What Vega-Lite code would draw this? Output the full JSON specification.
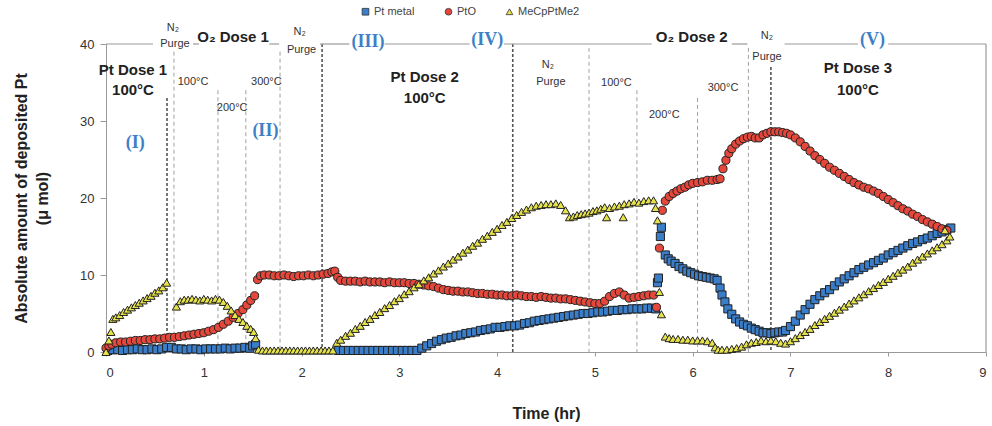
{
"$schema":"https://vega.github.io/schema/vega-lite/v6.json",
"width":880,"height":308,
"autosize":{"type":"none"},
"padding":{"left":106,"top":44,"right":6,"bottom":74},
"background":"white",
"config":{"view":{"stroke":null},"font":"Liberation Sans"},
"datasets":{
"pts":[
{"t":0.02,"s":"Pt metal","v":0.2},{"t":0.07,"s":"Pt metal","v":0.3},{"t":0.12,"s":"Pt metal","v":0.3},{"t":0.17,"s":"Pt metal","v":0.2},{"t":0.22,"s":"Pt metal","v":0.3},{"t":0.27,"s":"Pt metal","v":0.3},{"t":0.32,"s":"Pt metal","v":0.4},{"t":0.37,"s":"Pt metal","v":0.3},{"t":0.42,"s":"Pt metal","v":0.3},{"t":0.47,"s":"Pt metal","v":0.4},{"t":0.52,"s":"Pt metal","v":0.3},{"t":0.57,"s":"Pt metal","v":0.4},{"t":0.62,"s":"Pt metal","v":0.6},{"t":0.67,"s":"Pt metal","v":0.6},{"t":0.72,"s":"Pt metal","v":0.4},{"t":0.77,"s":"Pt metal","v":0.4},{"t":0.82,"s":"Pt metal","v":0.3},{"t":0.87,"s":"Pt metal","v":0.4},{"t":0.92,"s":"Pt metal","v":0.4},{"t":0.97,"s":"Pt metal","v":0.3},{"t":1.02,"s":"Pt metal","v":0.4},{"t":1.07,"s":"Pt metal","v":0.4},{"t":1.12,"s":"Pt metal","v":0.4},{"t":1.17,"s":"Pt metal","v":0.4},{"t":1.22,"s":"Pt metal","v":0.5},{"t":1.27,"s":"Pt metal","v":0.4},{"t":1.32,"s":"Pt metal","v":0.5},{"t":1.37,"s":"Pt metal","v":0.5},{"t":1.42,"s":"Pt metal","v":0.6},{"t":1.47,"s":"Pt metal","v":0.5},{"t":1.5,"s":"Pt metal","v":0.8},{"t":1.53,"s":"Pt metal","v":1.0},
{"t":2.38,"s":"Pt metal","v":0.2},{"t":2.43,"s":"Pt metal","v":0.2},{"t":2.48,"s":"Pt metal","v":0.2},{"t":2.53,"s":"Pt metal","v":0.2},{"t":2.58,"s":"Pt metal","v":0.2},{"t":2.63,"s":"Pt metal","v":0.2},{"t":2.68,"s":"Pt metal","v":0.2},{"t":2.73,"s":"Pt metal","v":0.2},{"t":2.78,"s":"Pt metal","v":0.2},{"t":2.83,"s":"Pt metal","v":0.2},{"t":2.88,"s":"Pt metal","v":0.2},{"t":2.93,"s":"Pt metal","v":0.2},{"t":2.98,"s":"Pt metal","v":0.2},{"t":3.03,"s":"Pt metal","v":0.2},{"t":3.08,"s":"Pt metal","v":0.2},{"t":3.13,"s":"Pt metal","v":0.2},{"t":3.18,"s":"Pt metal","v":0.2},{"t":3.23,"s":"Pt metal","v":0.5},{"t":3.28,"s":"Pt metal","v":0.8},{"t":3.33,"s":"Pt metal","v":1.1},{"t":3.38,"s":"Pt metal","v":1.4},{"t":3.43,"s":"Pt metal","v":1.6},{"t":3.48,"s":"Pt metal","v":1.8},{"t":3.53,"s":"Pt metal","v":1.9},{"t":3.58,"s":"Pt metal","v":2.1},{"t":3.63,"s":"Pt metal","v":2.2},{"t":3.68,"s":"Pt metal","v":2.4},{"t":3.73,"s":"Pt metal","v":2.5},{"t":3.78,"s":"Pt metal","v":2.6},{"t":3.83,"s":"Pt metal","v":2.8},{"t":3.88,"s":"Pt metal","v":2.9},{"t":3.93,"s":"Pt metal","v":3.0},{"t":3.98,"s":"Pt metal","v":3.2},{"t":4.03,"s":"Pt metal","v":3.2},{"t":4.08,"s":"Pt metal","v":3.3},{"t":4.13,"s":"Pt metal","v":3.4},{"t":4.18,"s":"Pt metal","v":3.4},{"t":4.23,"s":"Pt metal","v":3.5},{"t":4.28,"s":"Pt metal","v":3.7},{"t":4.33,"s":"Pt metal","v":3.8},{"t":4.38,"s":"Pt metal","v":4.0},{"t":4.43,"s":"Pt metal","v":4.1},{"t":4.48,"s":"Pt metal","v":4.2},{"t":4.53,"s":"Pt metal","v":4.3},{"t":4.58,"s":"Pt metal","v":4.4},{"t":4.63,"s":"Pt metal","v":4.5},{"t":4.68,"s":"Pt metal","v":4.6},{"t":4.73,"s":"Pt metal","v":4.7},{"t":4.78,"s":"Pt metal","v":4.8},{"t":4.83,"s":"Pt metal","v":4.9},{"t":4.88,"s":"Pt metal","v":5.0},{"t":4.93,"s":"Pt metal","v":5.0},{"t":4.98,"s":"Pt metal","v":5.1},{"t":5.03,"s":"Pt metal","v":5.2},{"t":5.08,"s":"Pt metal","v":5.2},{"t":5.13,"s":"Pt metal","v":5.3},{"t":5.18,"s":"Pt metal","v":5.4},{"t":5.23,"s":"Pt metal","v":5.4},{"t":5.28,"s":"Pt metal","v":5.5},{"t":5.33,"s":"Pt metal","v":5.5},{"t":5.38,"s":"Pt metal","v":5.6},{"t":5.43,"s":"Pt metal","v":5.6},{"t":5.48,"s":"Pt metal","v":5.6},{"t":5.53,"s":"Pt metal","v":5.7},{"t":5.58,"s":"Pt metal","v":5.7},{"t":5.62,"s":"Pt metal","v":5.6},{"t":5.64,"s":"Pt metal","v":9.0},{"t":5.65,"s":"Pt metal","v":9.6},{"t":5.67,"s":"Pt metal","v":15.0},{"t":5.68,"s":"Pt metal","v":16.2},{"t":5.72,"s":"Pt metal","v":12.6},{"t":5.75,"s":"Pt metal","v":12.1},{"t":5.78,"s":"Pt metal","v":11.8},{"t":5.82,"s":"Pt metal","v":11.5},{"t":5.86,"s":"Pt metal","v":11.1},{"t":5.9,"s":"Pt metal","v":10.8},{"t":5.94,"s":"Pt metal","v":10.5},{"t":5.98,"s":"Pt metal","v":10.3},{"t":6.02,"s":"Pt metal","v":10.1},{"t":6.06,"s":"Pt metal","v":9.9},{"t":6.1,"s":"Pt metal","v":9.8},{"t":6.14,"s":"Pt metal","v":9.7},{"t":6.18,"s":"Pt metal","v":9.6},{"t":6.22,"s":"Pt metal","v":9.5},{"t":6.25,"s":"Pt metal","v":9.3},{"t":6.28,"s":"Pt metal","v":8.3},{"t":6.3,"s":"Pt metal","v":7.4},{"t":6.33,"s":"Pt metal","v":6.5},{"t":6.36,"s":"Pt metal","v":5.6},{"t":6.4,"s":"Pt metal","v":4.9},{"t":6.44,"s":"Pt metal","v":4.3},{"t":6.48,"s":"Pt metal","v":3.9},{"t":6.52,"s":"Pt metal","v":3.6},{"t":6.56,"s":"Pt metal","v":3.4},{"t":6.6,"s":"Pt metal","v":3.1},{"t":6.64,"s":"Pt metal","v":2.9},{"t":6.68,"s":"Pt metal","v":2.7},{"t":6.72,"s":"Pt metal","v":2.5},{"t":6.76,"s":"Pt metal","v":2.5},{"t":6.8,"s":"Pt metal","v":2.4},{"t":6.84,"s":"Pt metal","v":2.5},{"t":6.88,"s":"Pt metal","v":2.6},{"t":6.92,"s":"Pt metal","v":2.6},{"t":6.95,"s":"Pt metal","v":2.8},
{"t":7.0,"s":"Pt metal","v":3.3},{"t":7.05,"s":"Pt metal","v":4.0},{"t":7.1,"s":"Pt metal","v":4.8},{"t":7.15,"s":"Pt metal","v":5.5},{"t":7.2,"s":"Pt metal","v":6.2},{"t":7.25,"s":"Pt metal","v":6.8},{"t":7.3,"s":"Pt metal","v":7.3},{"t":7.35,"s":"Pt metal","v":7.7},{"t":7.4,"s":"Pt metal","v":8.1},{"t":7.45,"s":"Pt metal","v":8.6},{"t":7.5,"s":"Pt metal","v":9.1},{"t":7.55,"s":"Pt metal","v":9.5},{"t":7.6,"s":"Pt metal","v":9.9},{"t":7.65,"s":"Pt metal","v":10.3},{"t":7.7,"s":"Pt metal","v":10.7},{"t":7.75,"s":"Pt metal","v":11.0},{"t":7.8,"s":"Pt metal","v":11.3},{"t":7.85,"s":"Pt metal","v":11.6},{"t":7.9,"s":"Pt metal","v":11.9},{"t":7.95,"s":"Pt metal","v":12.2},{"t":8.0,"s":"Pt metal","v":12.6},{"t":8.05,"s":"Pt metal","v":12.9},{"t":8.1,"s":"Pt metal","v":13.2},{"t":8.15,"s":"Pt metal","v":13.5},{"t":8.2,"s":"Pt metal","v":13.8},{"t":8.25,"s":"Pt metal","v":14.1},{"t":8.3,"s":"Pt metal","v":14.3},{"t":8.35,"s":"Pt metal","v":14.6},{"t":8.4,"s":"Pt metal","v":14.8},{"t":8.45,"s":"Pt metal","v":15.1},{"t":8.5,"s":"Pt metal","v":15.4},{"t":8.55,"s":"Pt metal","v":15.6},{"t":8.6,"s":"Pt metal","v":15.9},{"t":8.64,"s":"Pt metal","v":16.1},
{"t":0.0,"s":"PtO","v":0.5},{"t":0.03,"s":"PtO","v":0.8},{"t":0.06,"s":"PtO","v":1.0},{"t":0.1,"s":"PtO","v":1.2},{"t":0.15,"s":"PtO","v":1.3},{"t":0.2,"s":"PtO","v":1.3},{"t":0.25,"s":"PtO","v":1.4},{"t":0.3,"s":"PtO","v":1.5},{"t":0.35,"s":"PtO","v":1.5},{"t":0.4,"s":"PtO","v":1.6},{"t":0.45,"s":"PtO","v":1.6},{"t":0.5,"s":"PtO","v":1.7},{"t":0.55,"s":"PtO","v":1.7},{"t":0.6,"s":"PtO","v":1.8},{"t":0.65,"s":"PtO","v":1.9},{"t":0.7,"s":"PtO","v":1.9},{"t":0.75,"s":"PtO","v":2.0},{"t":0.8,"s":"PtO","v":2.1},{"t":0.85,"s":"PtO","v":2.2},{"t":0.9,"s":"PtO","v":2.3},{"t":0.95,"s":"PtO","v":2.4},{"t":1.0,"s":"PtO","v":2.5},{"t":1.05,"s":"PtO","v":2.7},{"t":1.1,"s":"PtO","v":2.9},{"t":1.15,"s":"PtO","v":3.2},{"t":1.2,"s":"PtO","v":3.6},{"t":1.25,"s":"PtO","v":4.0},{"t":1.3,"s":"PtO","v":4.5},{"t":1.35,"s":"PtO","v":5.0},{"t":1.4,"s":"PtO","v":5.5},{"t":1.44,"s":"PtO","v":6.1},{"t":1.48,"s":"PtO","v":6.7},{"t":1.52,"s":"PtO","v":7.3},{"t":1.55,"s":"PtO","v":9.4},{"t":1.58,"s":"PtO","v":9.9},{"t":1.62,"s":"PtO","v":10.0},{"t":1.67,"s":"PtO","v":10.0},{"t":1.72,"s":"PtO","v":9.9},{"t":1.77,"s":"PtO","v":9.9},{"t":1.82,"s":"PtO","v":10.0},{"t":1.87,"s":"PtO","v":9.9},{"t":1.92,"s":"PtO","v":9.8},{"t":1.97,"s":"PtO","v":9.9},{"t":2.02,"s":"PtO","v":9.9},{"t":2.07,"s":"PtO","v":10.0},{"t":2.12,"s":"PtO","v":9.9},{"t":2.17,"s":"PtO","v":10.0},{"t":2.22,"s":"PtO","v":10.1},{"t":2.27,"s":"PtO","v":10.2},{"t":2.31,"s":"PtO","v":10.4},{"t":2.34,"s":"PtO","v":10.5},{"t":2.37,"s":"PtO","v":9.7},{"t":2.4,"s":"PtO","v":9.3},{"t":2.45,"s":"PtO","v":9.2},{"t":2.5,"s":"PtO","v":9.2},{"t":2.55,"s":"PtO","v":9.2},{"t":2.6,"s":"PtO","v":9.1},{"t":2.65,"s":"PtO","v":9.2},{"t":2.7,"s":"PtO","v":9.1},{"t":2.75,"s":"PtO","v":9.1},{"t":2.8,"s":"PtO","v":9.1},{"t":2.85,"s":"PtO","v":9.0},{"t":2.9,"s":"PtO","v":9.1},{"t":2.95,"s":"PtO","v":9.0},{"t":3.0,"s":"PtO","v":9.0},{"t":3.05,"s":"PtO","v":9.0},{"t":3.1,"s":"PtO","v":8.9},{"t":3.15,"s":"PtO","v":8.9},{"t":3.2,"s":"PtO","v":8.8},{"t":3.25,"s":"PtO","v":8.7},{"t":3.3,"s":"PtO","v":8.6},{"t":3.35,"s":"PtO","v":8.5},{"t":3.4,"s":"PtO","v":8.3},{"t":3.45,"s":"PtO","v":8.1},{"t":3.5,"s":"PtO","v":8.0},{"t":3.55,"s":"PtO","v":7.9},{"t":3.6,"s":"PtO","v":7.9},{"t":3.65,"s":"PtO","v":7.8},{"t":3.7,"s":"PtO","v":7.8},{"t":3.75,"s":"PtO","v":7.7},{"t":3.8,"s":"PtO","v":7.6},{"t":3.85,"s":"PtO","v":7.6},{"t":3.9,"s":"PtO","v":7.5},{"t":3.95,"s":"PtO","v":7.5},{"t":4.0,"s":"PtO","v":7.4},{"t":4.05,"s":"PtO","v":7.4},{"t":4.1,"s":"PtO","v":7.3},{"t":4.15,"s":"PtO","v":7.3},{"t":4.2,"s":"PtO","v":7.4},{"t":4.25,"s":"PtO","v":7.3},{"t":4.3,"s":"PtO","v":7.2},{"t":4.35,"s":"PtO","v":7.2},{"t":4.4,"s":"PtO","v":7.1},{"t":4.45,"s":"PtO","v":7.2},{"t":4.5,"s":"PtO","v":7.1},{"t":4.55,"s":"PtO","v":7.0},{"t":4.6,"s":"PtO","v":7.0},{"t":4.65,"s":"PtO","v":6.9},{"t":4.7,"s":"PtO","v":6.9},{"t":4.75,"s":"PtO","v":6.8},{"t":4.8,"s":"PtO","v":6.7},{"t":4.85,"s":"PtO","v":6.6},{"t":4.9,"s":"PtO","v":6.5},{"t":4.95,"s":"PtO","v":6.4},{"t":5.0,"s":"PtO","v":6.3},{"t":5.05,"s":"PtO","v":6.3},{"t":5.1,"s":"PtO","v":6.6},{"t":5.15,"s":"PtO","v":7.2},{"t":5.2,"s":"PtO","v":7.6},{"t":5.25,"s":"PtO","v":7.8},{"t":5.3,"s":"PtO","v":7.4},{"t":5.35,"s":"PtO","v":7.0},{"t":5.4,"s":"PtO","v":7.1},{"t":5.45,"s":"PtO","v":7.2},{"t":5.5,"s":"PtO","v":7.3},{"t":5.55,"s":"PtO","v":7.4},{"t":5.6,"s":"PtO","v":7.4},{"t":5.63,"s":"PtO","v":5.8},{"t":5.66,"s":"PtO","v":13.5},{"t":5.69,"s":"PtO","v":18.4},{"t":5.72,"s":"PtO","v":19.6},{"t":5.76,"s":"PtO","v":20.2},{"t":5.8,"s":"PtO","v":20.6},{"t":5.84,"s":"PtO","v":20.9},{"t":5.88,"s":"PtO","v":21.2},{"t":5.92,"s":"PtO","v":21.4},{"t":5.96,"s":"PtO","v":21.7},{"t":6.0,"s":"PtO","v":21.9},{"t":6.05,"s":"PtO","v":22.0},{"t":6.1,"s":"PtO","v":22.1},{"t":6.15,"s":"PtO","v":22.3},{"t":6.2,"s":"PtO","v":22.3},{"t":6.25,"s":"PtO","v":22.4},{"t":6.28,"s":"PtO","v":22.5},{"t":6.31,"s":"PtO","v":23.8},{"t":6.34,"s":"PtO","v":24.9},{"t":6.37,"s":"PtO","v":25.8},{"t":6.4,"s":"PtO","v":26.4},{"t":6.44,"s":"PtO","v":27.0},{"t":6.48,"s":"PtO","v":27.4},{"t":6.52,"s":"PtO","v":27.7},{"t":6.56,"s":"PtO","v":27.9},{"t":6.6,"s":"PtO","v":28.0},{"t":6.64,"s":"PtO","v":27.8},{"t":6.68,"s":"PtO","v":27.8},{"t":6.72,"s":"PtO","v":28.2},{"t":6.76,"s":"PtO","v":28.4},{"t":6.8,"s":"PtO","v":28.6},{"t":6.84,"s":"PtO","v":28.6},{"t":6.88,"s":"PtO","v":28.6},{"t":6.92,"s":"PtO","v":28.5},{"t":6.96,"s":"PtO","v":28.4},{"t":7.0,"s":"PtO","v":28.2},{"t":7.05,"s":"PtO","v":27.8},{"t":7.1,"s":"PtO","v":27.3},{"t":7.15,"s":"PtO","v":26.7},{"t":7.2,"s":"PtO","v":26.1},{"t":7.25,"s":"PtO","v":25.5},{"t":7.3,"s":"PtO","v":25.0},{"t":7.35,"s":"PtO","v":24.5},{"t":7.4,"s":"PtO","v":24.0},{"t":7.45,"s":"PtO","v":23.6},{"t":7.5,"s":"PtO","v":23.2},{"t":7.55,"s":"PtO","v":22.8},{"t":7.6,"s":"PtO","v":22.4},{"t":7.65,"s":"PtO","v":22.0},{"t":7.7,"s":"PtO","v":21.7},{"t":7.75,"s":"PtO","v":21.4},{"t":7.8,"s":"PtO","v":21.2},{"t":7.85,"s":"PtO","v":20.9},{"t":7.9,"s":"PtO","v":20.6},{"t":7.95,"s":"PtO","v":20.2},{"t":8.0,"s":"PtO","v":19.8},{"t":8.05,"s":"PtO","v":19.4},{"t":8.1,"s":"PtO","v":19.0},{"t":8.15,"s":"PtO","v":18.6},{"t":8.2,"s":"PtO","v":18.3},{"t":8.25,"s":"PtO","v":17.9},{"t":8.3,"s":"PtO","v":17.6},{"t":8.35,"s":"PtO","v":17.2},{"t":8.4,"s":"PtO","v":16.9},{"t":8.45,"s":"PtO","v":16.6},{"t":8.5,"s":"PtO","v":16.3},{"t":8.55,"s":"PtO","v":16.0},{"t":8.6,"s":"PtO","v":15.8},
{"t":0.0,"s":"MeCpPtMe2","v":0.0},{"t":0.03,"s":"MeCpPtMe2","v":1.5},{"t":0.05,"s":"MeCpPtMe2","v":2.6},{"t":0.07,"s":"MeCpPtMe2","v":4.3},{"t":0.1,"s":"MeCpPtMe2","v":4.5},{"t":0.14,"s":"MeCpPtMe2","v":4.8},{"t":0.18,"s":"MeCpPtMe2","v":5.2},{"t":0.22,"s":"MeCpPtMe2","v":5.5},{"t":0.26,"s":"MeCpPtMe2","v":5.8},{"t":0.3,"s":"MeCpPtMe2","v":6.1},{"t":0.34,"s":"MeCpPtMe2","v":6.4},{"t":0.38,"s":"MeCpPtMe2","v":6.7},{"t":0.42,"s":"MeCpPtMe2","v":7.0},{"t":0.46,"s":"MeCpPtMe2","v":7.3},{"t":0.5,"s":"MeCpPtMe2","v":7.7},{"t":0.54,"s":"MeCpPtMe2","v":8.0},{"t":0.58,"s":"MeCpPtMe2","v":8.4},{"t":0.62,"s":"MeCpPtMe2","v":9.0},{"t":0.72,"s":"MeCpPtMe2","v":5.9},{"t":0.76,"s":"MeCpPtMe2","v":6.6},{"t":0.8,"s":"MeCpPtMe2","v":6.8},{"t":0.84,"s":"MeCpPtMe2","v":6.8},{"t":0.88,"s":"MeCpPtMe2","v":6.9},{"t":0.92,"s":"MeCpPtMe2","v":6.8},{"t":0.96,"s":"MeCpPtMe2","v":6.7},{"t":1.0,"s":"MeCpPtMe2","v":6.9},{"t":1.04,"s":"MeCpPtMe2","v":6.8},{"t":1.08,"s":"MeCpPtMe2","v":6.7},{"t":1.12,"s":"MeCpPtMe2","v":6.9},{"t":1.16,"s":"MeCpPtMe2","v":6.8},{"t":1.2,"s":"MeCpPtMe2","v":6.5},{"t":1.24,"s":"MeCpPtMe2","v":6.0},{"t":1.28,"s":"MeCpPtMe2","v":5.4},{"t":1.32,"s":"MeCpPtMe2","v":4.8},{"t":1.36,"s":"MeCpPtMe2","v":4.3},{"t":1.4,"s":"MeCpPtMe2","v":3.9},{"t":1.44,"s":"MeCpPtMe2","v":3.4},{"t":1.48,"s":"MeCpPtMe2","v":3.0},{"t":1.51,"s":"MeCpPtMe2","v":2.6},{"t":1.53,"s":"MeCpPtMe2","v":1.8},{"t":1.56,"s":"MeCpPtMe2","v":0.3},{"t":1.6,"s":"MeCpPtMe2","v":0.2},{"t":1.64,"s":"MeCpPtMe2","v":0.2},{"t":1.68,"s":"MeCpPtMe2","v":0.2},{"t":1.72,"s":"MeCpPtMe2","v":0.2},{"t":1.76,"s":"MeCpPtMe2","v":0.2},{"t":1.8,"s":"MeCpPtMe2","v":0.2},{"t":1.84,"s":"MeCpPtMe2","v":0.2},{"t":1.88,"s":"MeCpPtMe2","v":0.2},{"t":1.92,"s":"MeCpPtMe2","v":0.2},{"t":1.96,"s":"MeCpPtMe2","v":0.2},{"t":2.0,"s":"MeCpPtMe2","v":0.2},{"t":2.04,"s":"MeCpPtMe2","v":0.2},{"t":2.08,"s":"MeCpPtMe2","v":0.2},{"t":2.12,"s":"MeCpPtMe2","v":0.2},{"t":2.16,"s":"MeCpPtMe2","v":0.2},{"t":2.2,"s":"MeCpPtMe2","v":0.2},{"t":2.24,"s":"MeCpPtMe2","v":0.2},{"t":2.28,"s":"MeCpPtMe2","v":0.2},{"t":2.32,"s":"MeCpPtMe2","v":0.2},
{"t":2.36,"s":"MeCpPtMe2","v":1.2},{"t":2.4,"s":"MeCpPtMe2","v":1.6},{"t":2.45,"s":"MeCpPtMe2","v":2.1},{"t":2.5,"s":"MeCpPtMe2","v":2.5},{"t":2.55,"s":"MeCpPtMe2","v":3.0},{"t":2.6,"s":"MeCpPtMe2","v":3.4},{"t":2.65,"s":"MeCpPtMe2","v":3.9},{"t":2.7,"s":"MeCpPtMe2","v":4.3},{"t":2.75,"s":"MeCpPtMe2","v":4.8},{"t":2.8,"s":"MeCpPtMe2","v":5.2},{"t":2.85,"s":"MeCpPtMe2","v":5.7},{"t":2.9,"s":"MeCpPtMe2","v":6.1},{"t":2.95,"s":"MeCpPtMe2","v":6.6},{"t":3.0,"s":"MeCpPtMe2","v":7.0},{"t":3.05,"s":"MeCpPtMe2","v":7.5},{"t":3.1,"s":"MeCpPtMe2","v":7.9},{"t":3.15,"s":"MeCpPtMe2","v":8.4},{"t":3.2,"s":"MeCpPtMe2","v":8.8},{"t":3.25,"s":"MeCpPtMe2","v":9.3},{"t":3.3,"s":"MeCpPtMe2","v":9.7},{"t":3.35,"s":"MeCpPtMe2","v":10.2},{"t":3.4,"s":"MeCpPtMe2","v":10.6},{"t":3.45,"s":"MeCpPtMe2","v":11.1},{"t":3.5,"s":"MeCpPtMe2","v":11.5},{"t":3.55,"s":"MeCpPtMe2","v":12.0},{"t":3.6,"s":"MeCpPtMe2","v":12.4},{"t":3.65,"s":"MeCpPtMe2","v":12.9},{"t":3.7,"s":"MeCpPtMe2","v":13.3},{"t":3.75,"s":"MeCpPtMe2","v":13.8},{"t":3.8,"s":"MeCpPtMe2","v":14.2},{"t":3.85,"s":"MeCpPtMe2","v":14.7},{"t":3.9,"s":"MeCpPtMe2","v":15.1},{"t":3.95,"s":"MeCpPtMe2","v":15.6},{"t":4.0,"s":"MeCpPtMe2","v":16.0},{"t":4.05,"s":"MeCpPtMe2","v":16.5},{"t":4.1,"s":"MeCpPtMe2","v":16.9},{"t":4.15,"s":"MeCpPtMe2","v":17.4},{"t":4.2,"s":"MeCpPtMe2","v":17.8},{"t":4.25,"s":"MeCpPtMe2","v":18.2},{"t":4.3,"s":"MeCpPtMe2","v":18.5},{"t":4.35,"s":"MeCpPtMe2","v":18.8},{"t":4.4,"s":"MeCpPtMe2","v":19.0},{"t":4.45,"s":"MeCpPtMe2","v":19.1},{"t":4.5,"s":"MeCpPtMe2","v":19.2},{"t":4.55,"s":"MeCpPtMe2","v":19.2},{"t":4.6,"s":"MeCpPtMe2","v":19.3},{"t":4.65,"s":"MeCpPtMe2","v":19.1},{"t":4.7,"s":"MeCpPtMe2","v":18.4},{"t":4.74,"s":"MeCpPtMe2","v":17.5},{"t":4.78,"s":"MeCpPtMe2","v":17.6},{"t":4.82,"s":"MeCpPtMe2","v":17.8},{"t":4.86,"s":"MeCpPtMe2","v":17.9},{"t":4.9,"s":"MeCpPtMe2","v":18.0},{"t":4.94,"s":"MeCpPtMe2","v":18.1},{"t":4.98,"s":"MeCpPtMe2","v":18.3},{"t":5.02,"s":"MeCpPtMe2","v":18.4},{"t":5.06,"s":"MeCpPtMe2","v":18.6},{"t":5.1,"s":"MeCpPtMe2","v":18.8},{"t":5.12,"s":"MeCpPtMe2","v":17.5},{"t":5.15,"s":"MeCpPtMe2","v":18.7},{"t":5.2,"s":"MeCpPtMe2","v":18.9},{"t":5.25,"s":"MeCpPtMe2","v":19.0},{"t":5.29,"s":"MeCpPtMe2","v":17.5},{"t":5.3,"s":"MeCpPtMe2","v":19.2},{"t":5.35,"s":"MeCpPtMe2","v":19.3},{"t":5.4,"s":"MeCpPtMe2","v":19.5},{"t":5.45,"s":"MeCpPtMe2","v":19.4},{"t":5.5,"s":"MeCpPtMe2","v":19.6},{"t":5.55,"s":"MeCpPtMe2","v":19.7},{"t":5.6,"s":"MeCpPtMe2","v":19.7},{"t":5.62,"s":"MeCpPtMe2","v":18.7},{"t":5.64,"s":"MeCpPtMe2","v":17.1},{"t":5.66,"s":"MeCpPtMe2","v":7.8},{"t":5.68,"s":"MeCpPtMe2","v":4.9},{"t":5.72,"s":"MeCpPtMe2","v":2.0},{"t":5.76,"s":"MeCpPtMe2","v":1.8},{"t":5.8,"s":"MeCpPtMe2","v":1.7},{"t":5.85,"s":"MeCpPtMe2","v":1.7},{"t":5.9,"s":"MeCpPtMe2","v":1.6},{"t":5.95,"s":"MeCpPtMe2","v":1.6},{"t":6.0,"s":"MeCpPtMe2","v":1.5},{"t":6.05,"s":"MeCpPtMe2","v":1.5},{"t":6.1,"s":"MeCpPtMe2","v":1.5},{"t":6.15,"s":"MeCpPtMe2","v":1.4},{"t":6.2,"s":"MeCpPtMe2","v":1.2},{"t":6.23,"s":"MeCpPtMe2","v":0.6},{"t":6.26,"s":"MeCpPtMe2","v":0.3},{"t":6.3,"s":"MeCpPtMe2","v":0.3},{"t":6.35,"s":"MeCpPtMe2","v":0.3},{"t":6.4,"s":"MeCpPtMe2","v":0.4},{"t":6.45,"s":"MeCpPtMe2","v":0.5},{"t":6.5,"s":"MeCpPtMe2","v":0.7},{"t":6.55,"s":"MeCpPtMe2","v":1.0},{"t":6.6,"s":"MeCpPtMe2","v":1.2},{"t":6.65,"s":"MeCpPtMe2","v":1.3},{"t":6.7,"s":"MeCpPtMe2","v":1.5},{"t":6.75,"s":"MeCpPtMe2","v":1.4},{"t":6.8,"s":"MeCpPtMe2","v":1.5},{"t":6.85,"s":"MeCpPtMe2","v":1.4},{"t":6.9,"s":"MeCpPtMe2","v":1.2},{"t":6.95,"s":"MeCpPtMe2","v":1.1},
{"t":7.0,"s":"MeCpPtMe2","v":1.4},{"t":7.05,"s":"MeCpPtMe2","v":1.8},{"t":7.1,"s":"MeCpPtMe2","v":2.2},{"t":7.15,"s":"MeCpPtMe2","v":2.6},{"t":7.2,"s":"MeCpPtMe2","v":3.0},{"t":7.25,"s":"MeCpPtMe2","v":3.5},{"t":7.3,"s":"MeCpPtMe2","v":3.9},{"t":7.35,"s":"MeCpPtMe2","v":4.3},{"t":7.4,"s":"MeCpPtMe2","v":4.7},{"t":7.45,"s":"MeCpPtMe2","v":5.1},{"t":7.5,"s":"MeCpPtMe2","v":5.5},{"t":7.55,"s":"MeCpPtMe2","v":5.9},{"t":7.6,"s":"MeCpPtMe2","v":6.3},{"t":7.65,"s":"MeCpPtMe2","v":6.7},{"t":7.7,"s":"MeCpPtMe2","v":7.1},{"t":7.75,"s":"MeCpPtMe2","v":7.5},{"t":7.8,"s":"MeCpPtMe2","v":7.9},{"t":7.85,"s":"MeCpPtMe2","v":8.3},{"t":7.9,"s":"MeCpPtMe2","v":8.7},{"t":7.95,"s":"MeCpPtMe2","v":9.1},{"t":8.0,"s":"MeCpPtMe2","v":9.5},{"t":8.05,"s":"MeCpPtMe2","v":9.9},{"t":8.1,"s":"MeCpPtMe2","v":10.3},{"t":8.15,"s":"MeCpPtMe2","v":10.7},{"t":8.2,"s":"MeCpPtMe2","v":11.1},{"t":8.25,"s":"MeCpPtMe2","v":11.6},{"t":8.3,"s":"MeCpPtMe2","v":12.0},{"t":8.35,"s":"MeCpPtMe2","v":12.4},{"t":8.4,"s":"MeCpPtMe2","v":12.8},{"t":8.45,"s":"MeCpPtMe2","v":13.2},{"t":8.5,"s":"MeCpPtMe2","v":13.6},{"t":8.55,"s":"MeCpPtMe2","v":14.0},{"t":8.6,"s":"MeCpPtMe2","v":14.5},{"t":8.63,"s":"MeCpPtMe2","v":15.0},{"t":8.58,"s":"MeCpPtMe2","v":15.8}
],
"vlines":[
{"t":0.624,"v":33,"k":"thick"},{"t":2.21,"v":40,"k":"thick"},{"t":4.16,"v":40,"k":"thick"},{"t":6.8,"v":37,"k":"thick"},
{"t":0.695,"v":39,"k":"thin"},{"t":1.145,"v":34,"k":"thin"},{"t":1.43,"v":34,"k":"thin"},{"t":1.78,"v":39,"k":"thin"},{"t":4.94,"v":39.5,"k":"thin"},{"t":5.43,"v":34,"k":"thin"},{"t":6.05,"v":33,"k":"thin"},{"t":6.57,"v":39.5,"k":"thin"}
],
"border":[
{"t":0,"t2":0.48,"v":40},{"t":0.89,"t2":0.95,"v":40},{"t":1.67,"t2":1.77,"v":40},{"t":2.19,"t2":2.49,"v":40},{"t":2.85,"t2":3.72,"v":40},{"t":4.07,"t2":5.58,"v":40},{"t":6.4,"t2":6.56,"v":40},{"t":6.94,"t2":7.69,"v":40},{"t":8.0,"t2":9.0,"v":40}
],
"notes":[
{"t":0.276,"v":36.6,"label":"Pt Dose 1","k":"bold"},{"t":0.276,"v":34.0,"label":"100°C","k":"bold"},{"t":1.30,"v":40.9,"label":"O₂ Dose 1","k":"bold"},{"t":3.26,"v":35.7,"label":"Pt Dose 2","k":"bold"},{"t":3.26,"v":33.0,"label":"100°C","k":"bold"},{"t":5.99,"v":40.9,"label":"O₂ Dose 2","k":"bold"},{"t":7.69,"v":36.9,"label":"Pt Dose 3","k":"bold"},{"t":7.69,"v":34.0,"label":"100°C","k":"bold"},
{"t":0.685,"v":42.1,"label":"N₂","k":"small"},{"t":0.705,"v":40.0,"label":"Purge","k":"small"},{"t":1.98,"v":41.6,"label":"N₂","k":"small"},{"t":2.0,"v":39.2,"label":"Purge","k":"small"},{"t":0.89,"v":35.1,"label":"100°C","k":"small"},{"t":1.64,"v":35.1,"label":"300°C","k":"small"},{"t":1.29,"v":31.7,"label":"200°C","k":"small"},{"t":4.52,"v":37.3,"label":"N₂","k":"small"},{"t":4.55,"v":35.1,"label":"Purge","k":"small"},{"t":5.22,"v":34.9,"label":"100°C","k":"small"},{"t":5.71,"v":30.8,"label":"200°C","k":"small"},{"t":6.31,"v":34.3,"label":"300°C","k":"small"},{"t":6.76,"v":41.0,"label":"N₂","k":"small"},{"t":6.76,"v":38.3,"label":"Purge","k":"small"},
{"t":0.30,"v":27.1,"label":"(I)","k":"roman"},{"t":1.63,"v":28.7,"label":"(II)","k":"roman"},{"t":2.68,"v":40.3,"label":"(III)","k":"roman"},{"t":3.90,"v":40.5,"label":"(IV)","k":"roman"},{"t":7.84,"v":40.5,"label":"(V)","k":"roman"}
]
},
"encoding":{
"x":{"field":"t","type":"quantitative","scale":{"domain":[0,9],"nice":false},
"axis":{"title":"Time (hr)","titleFont":"Liberation Sans","titleFontSize":16,"titleFontWeight":"bold","titleColor":"#222","titlePadding":26,"values":[0,1,2,3,4,5,6,7,8,9],"format":"d","grid":false,"domainColor":"#999","tickColor":"#999","tickSize":4,"labelFontSize":13,"labelColor":"#333","labelPadding":10}},
"y":{"field":"v","type":"quantitative","scale":{"domain":[0,40],"nice":false},
"axis":{"title":["Absolute amount of deposited Pt","(μ mol)"],"titleFont":"Liberation Sans","titleFontSize":16,"titleFontWeight":"bold","titleColor":"#222","titleLineHeight":21,"titlePadding":29,"values":[0,10,20,30,40],"grid":false,"domainColor":"#999","tickColor":"#999","tickSize":6,"labelFontSize":13,"labelColor":"#333","labelPadding":6}}
},
"layer":[
{"data":{"name":"vlines"},"transform":[{"filter":"datum.k == 'thin'"}],"mark":{"type":"rule","color":"#a0a0a0","strokeWidth":1,"strokeDash":[4,3]},"encoding":{"y2":{"datum":0}}},
{"data":{"name":"vlines"},"transform":[{"filter":"datum.k == 'thick'"}],"mark":{"type":"rule","color":"#555","strokeWidth":1.6,"strokeDash":[3,2]},"encoding":{"y2":{"datum":0}}},
{"data":{"name":"border"},"mark":{"type":"rule","color":"#999","strokeWidth":1.2},"encoding":{"x2":{"field":"t2"}}},
{"data":{"values":[{"t":9,"v":40}]},"mark":{"type":"rule","color":"#999","strokeWidth":1.2},"encoding":{"y2":{"datum":0}}},
{"data":{"name":"pts"},"mark":{"type":"point","filled":true,"opacity":1,"size":66,"stroke":"#222","strokeWidth":1},
"encoding":{
"color":{"field":"s","type":"nominal","scale":{"domain":["Pt metal","PtO","MeCpPtMe2"],"range":["#3a7dc8","#e4473b","#e6e24a"]},
"legend":{"title":null,"orient":"none","legendX":254,"legendY":-38,"direction":"horizontal","columnPadding":28,"labelFontSize":11,"labelColor":"#444","labelFont":"Liberation Sans","symbolSize":45,"symbolStrokeColor":"#333","symbolStrokeWidth":0.8,"labelOffset":3}},
"shape":{"field":"s","type":"nominal","scale":{"domain":["Pt metal","PtO","MeCpPtMe2"],"range":["square","circle","triangle-up"]},"legend":null}}},
{"data":{"name":"notes"},"transform":[{"filter":"datum.k == 'bold'"}],"mark":{"type":"text","font":"Liberation Sans","fontWeight":"bold","fontSize":15,"color":"#222","align":"center","baseline":"middle"},"encoding":{"text":{"field":"label"}}},
{"data":{"name":"notes"},"transform":[{"filter":"datum.k == 'small'"}],"mark":{"type":"text","font":"Liberation Sans","fontSize":11,"color":"#333","align":"center","baseline":"middle"},"encoding":{"text":{"field":"label"}}},
{"data":{"name":"notes"},"transform":[{"filter":"datum.k == 'roman'"}],"mark":{"type":"text","font":"Liberation Serif","fontWeight":"bold","fontSize":18,"color":"#3f7fc6","align":"center","baseline":"middle"},"encoding":{"text":{"field":"label"}}}
]
}
